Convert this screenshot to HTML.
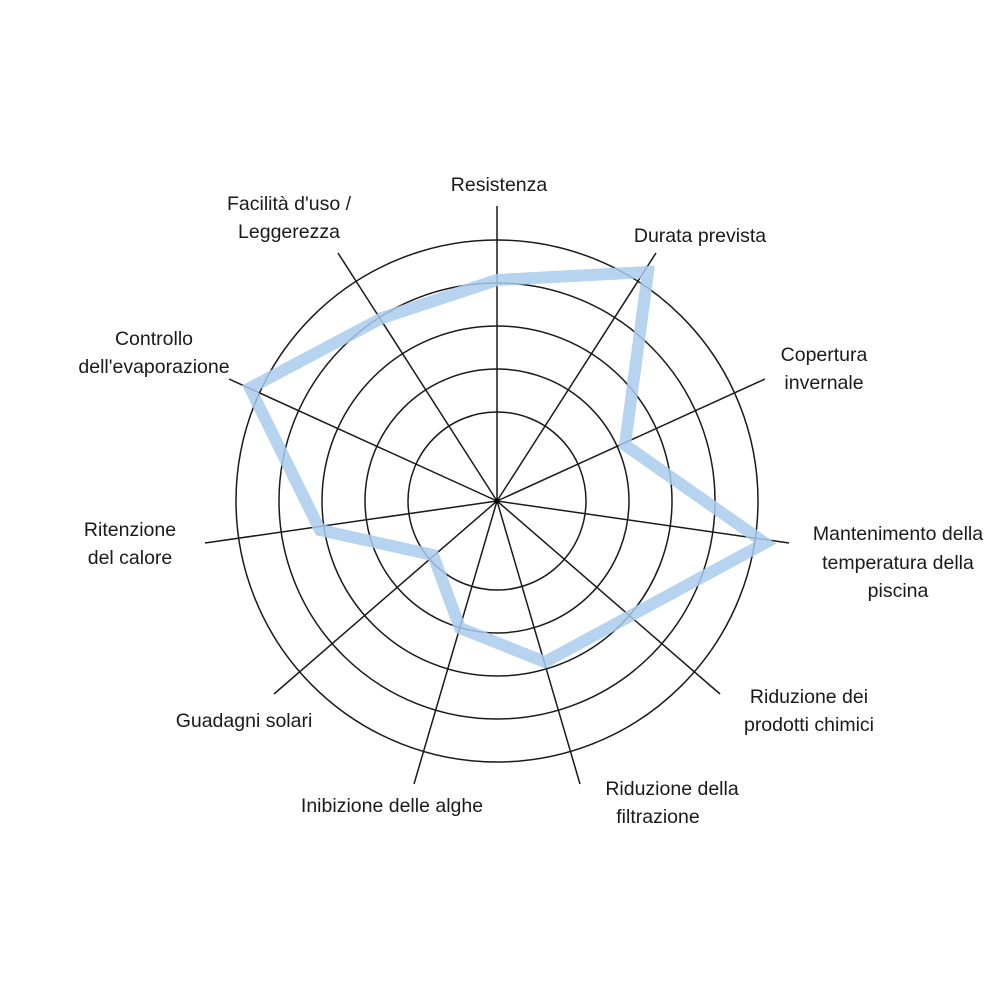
<!DOCTYPE html>
<html><head><meta charset="utf-8"><style>
body{margin:0;background:#fff}
svg text{font-family:"Liberation Sans",sans-serif;font-size:19.5px;fill:#1a1a1a}
</style></head><body>
<svg width="1000" height="1000" xmlns="http://www.w3.org/2000/svg">
<rect width="1000" height="1000" fill="#fff"/>
<g fill="none" stroke="#1a1a1a" stroke-width="1.5">
<circle cx="497" cy="501" r="89"/>
<circle cx="497" cy="501" r="132"/>
<circle cx="497" cy="501" r="175"/>
<circle cx="497" cy="501" r="218"/>
<circle cx="497" cy="501" r="261"/>
<line x1="497" y1="501" x2="497" y2="206"/>
<line x1="497" y1="501" x2="656" y2="253"/>
<line x1="497" y1="501" x2="765" y2="379"/>
<line x1="497" y1="501" x2="789" y2="543"/>
<line x1="497" y1="501" x2="720" y2="694"/>
<line x1="497" y1="501" x2="580" y2="784"/>
<line x1="497" y1="501" x2="414" y2="784"/>
<line x1="497" y1="501" x2="274" y2="694"/>
<line x1="497" y1="501" x2="205" y2="543"/>
<line x1="497" y1="501" x2="229" y2="379"/>
<line x1="497" y1="501" x2="338" y2="253"/>
</g>
<polygon points="497,280 648,272 625,445 765,543 545,662 460,628 433,555 320,530 250,388 382,318" fill="none" stroke="#a9cbec" stroke-opacity="0.85" stroke-width="12" stroke-linejoin="miter"/>
<circle cx="497" cy="501" r="2.5" fill="#000"/>
<g>
<text x="499" y="191" text-anchor="middle">Resistenza</text>
<text x="700" y="242" text-anchor="middle">Durata prevista</text>
<text x="824" y="361" text-anchor="middle">Copertura</text>
<text x="824" y="389" text-anchor="middle">invernale</text>
<text x="898" y="540" text-anchor="middle">Mantenimento della</text>
<text x="898" y="569" text-anchor="middle">temperatura della</text>
<text x="898" y="597" text-anchor="middle">piscina</text>
<text x="809" y="703" text-anchor="middle">Riduzione dei</text>
<text x="809" y="731" text-anchor="middle">prodotti chimici</text>
<text x="672" y="795" text-anchor="middle">Riduzione della</text>
<text x="658" y="823" text-anchor="middle">filtrazione</text>
<text x="392" y="812" text-anchor="middle">Inibizione delle alghe</text>
<text x="244" y="727" text-anchor="middle">Guadagni solari</text>
<text x="130" y="536" text-anchor="middle">Ritenzione</text>
<text x="130" y="564" text-anchor="middle">del calore</text>
<text x="154" y="345" text-anchor="middle">Controllo</text>
<text x="154" y="373" text-anchor="middle">dell'evaporazione</text>
<text x="289" y="210" text-anchor="middle">Facilità d'uso /</text>
<text x="289" y="238" text-anchor="middle">Leggerezza</text>
</g>
</svg>
</body></html>
